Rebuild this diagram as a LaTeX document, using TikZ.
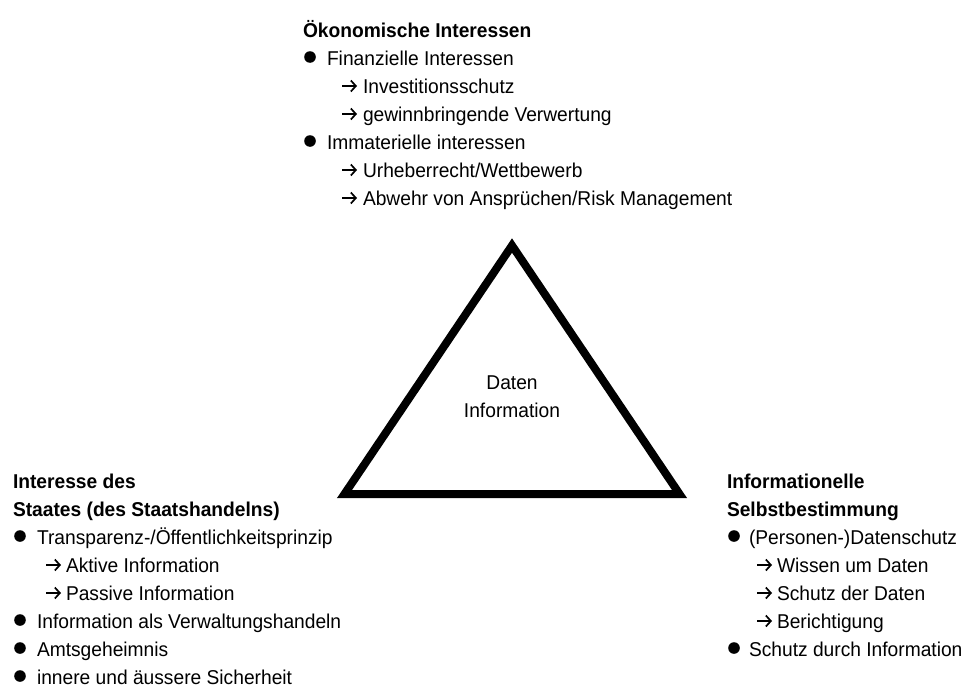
\documentclass[tikz,border=0pt]{standalone}
\usepackage{fontspec}
\setmainfont{Liberation Sans}[FakeStretch=0.96]
\usetikzlibrary{arrows.meta}
\begin{document}
\begin{tikzpicture}[x=1pt,y=-1pt,
  txt/.style={inner sep=0pt, outer sep=0pt, anchor=base west, font=\fontsize{20}{28}\selectfont},
  head/.style={txt, font=\fontsize{20}{28}\selectfont\bfseries},
  ctr/.style={txt, anchor=base},
  tri/.style={draw=black, line width=8pt, line join=miter},
  bul/.style={fill=black},
  arr/.style={draw=black, line width=1.7pt, -{Straight Barb[length=5pt,width=11pt,line width=1.7pt]}}]
\useasboundingbox (0,0) rectangle (965,688);
% triangle
\coordinate (apex) at (512,245.5);
\coordinate (bl) at (344.5,494);
\coordinate (br) at (679.5,494);
\draw[tri] (apex) -- (bl) -- (br) -- cycle;
\node[ctr] (c1) at (512,389) {Daten};
\node[ctr] (c2) at (512,417) {Information};
% top block
\node[head] (t0) at (303,37) {Ökonomische Interessen};
\fill[bul] (310,57) circle (5.8);
\node[txt] (t1) at (327,65) {Finanzielle Interessen};
\draw[arr] (342,86) -- (357,86);
\node[txt] (t2) at (363,93) {Investitionsschutz};
\draw[arr] (342,114) -- (357,114);
\node[txt] (t3) at (363,121) {gewinnbringende Verwertung};
\fill[bul] (310,141) circle (5.8);
\node[txt] (t4) at (327,149) {Immaterielle interessen};
\draw[arr] (342,170) -- (357,170);
\node[txt] (t5) at (363,177) {Urheberrecht/Wettbewerb};
\draw[arr] (342,198) -- (357,198);
\node[txt] (t6) at (363,205) {Abwehr von Ansprüchen/Risk Management};
% left block
\node[head] (l0) at (13,488) {Interesse des};
\node[head] (l1) at (13,516) {Staates (des Staatshandelns)};
\fill[bul] (20,536) circle (5.8);
\node[txt] (l2) at (37,544) {Transparenz-/Öffentlichkeitsprinzip};
\draw[arr] (46,565) -- (61,565);
\node[txt] (l3) at (66,572) {Aktive Information};
\draw[arr] (46,593) -- (61,593);
\node[txt] (l4) at (66,600) {Passive Information};
\fill[bul] (20,620) circle (5.8);
\node[txt] (l5) at (37,628) {Information als Verwaltungshandeln};
\fill[bul] (20,648) circle (5.8);
\node[txt] (l6) at (37,656) {Amtsgeheimnis};
\fill[bul] (20,676) circle (5.8);
\node[txt] (l7) at (37,684) {innere und äussere Sicherheit};
% right block
\node[head] (r0) at (727,488) {Informationelle};
\node[head] (r1) at (727,516) {Selbstbestimmung};
\fill[bul] (734,536) circle (5.8);
\node[txt] (r2) at (749,544) {(Personen-)Datenschutz};
\draw[arr] (757,565) -- (772,565);
\node[txt] (r3) at (777,572) {Wissen um Daten};
\draw[arr] (757,593) -- (772,593);
\node[txt] (r4) at (777,600) {Schutz der Daten};
\draw[arr] (757,621) -- (772,621);
\node[txt] (r5) at (777,628) {Berichtigung};
\fill[bul] (734,648) circle (5.8);
\node[txt] (r6) at (749,656) {Schutz durch Information};
\end{tikzpicture}
\end{document}
